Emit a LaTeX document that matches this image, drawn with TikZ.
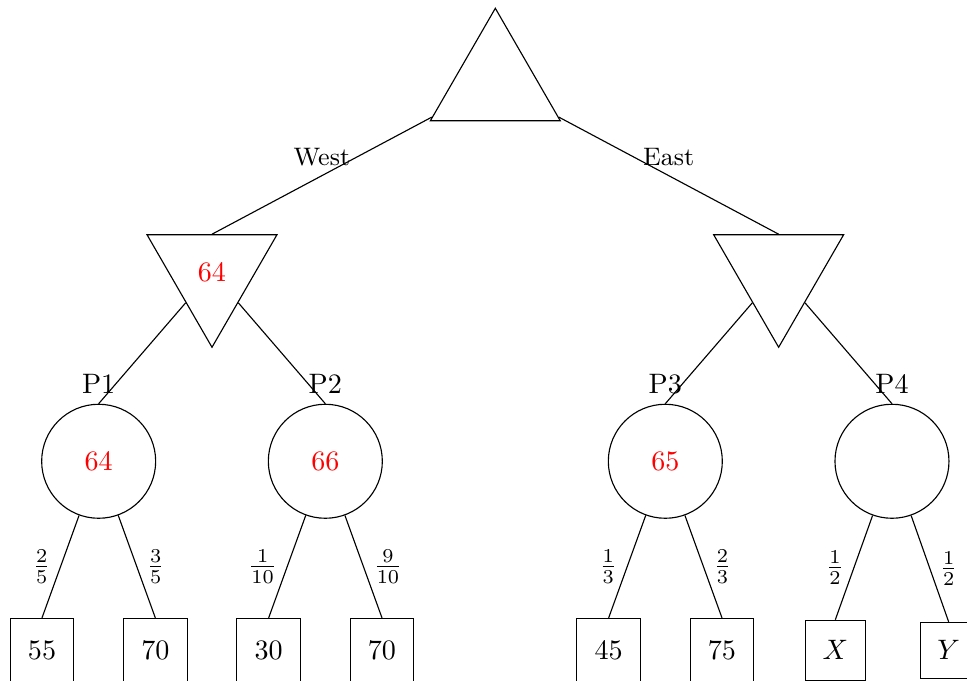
\documentclass[tikz,border=0pt]{standalone}
\usepackage{amsmath}
\usetikzlibrary{shapes.geometric}
\tikzset{
  maxnode/.style={draw, regular polygon, regular polygon sides=3, minimum size=1.875cm, inner sep=0pt},
  minnode/.style={maxnode, shape border rotate=180},
  chance/.style={draw, circle, minimum size=1.425cm},
  payoff/.style={draw, regular polygon, regular polygon sides=4, inner sep=3pt},
  value/.style={text=red}
}

\begin{document}
\begin{tikzpicture}[x=1.41667cm, y=2.3625cm]
     \useasboundingbox (-0.3706,0.4407) rectangle (8.162,-3.1624);
     \node [maxnode] (root) at (4,0) {};
     \node [minnode, value] (west) at (1.5,-1) {64};
     \node [minnode] (east) at (6.5,-1) {};
     \draw (root) -- node [midway, above] {\small West} (west.north);
     \draw (root) -- node [midway, above] {\small East} (east.north);
     \node [chance, value, label={[text=black]above:P1}] (p1) at (0.5,-2) {64};
     \node [chance, value, label={[text=black]above:P2}] (p2) at (2.5,-2) {66};
     \node [chance, value, label={[text=black]above:P3}] (p3) at (5.5,-2) {65};
     \node [chance, label={above:P4}] (p4) at (7.5,-2) {};
     \draw (west) -- (p1.north);
     \draw (west) -- (p2.north);
     \draw (east) -- (p3.north);
     \draw (east) -- (p4.north);
     \node [payoff] (l1) at (0,-3) {55};
     \node [payoff] (l2) at (1,-3) {70};
     \node [payoff] (l3) at (2,-3) {30};
     \node [payoff] (l4) at (3,-3) {70};
     \node [payoff] (l5) at (5,-3) {45};
     \node [payoff] (l6) at (6,-3) {75};
     \node [payoff] (l7) at (7,-3) {$X$};
     \node [payoff] (l8) at (8,-3) {$Y$};
     \draw (p1) -- node [midway, left] {$\frac{2}{5}$} (l1.north);
     \draw (p1) -- node [midway, right] {$\frac{3}{5}$} (l2.north);
     \draw (p2) -- node [midway, left] {$\frac{1}{10}$} (l3.north);
     \draw (p2) -- node [midway, right] {$\frac{9}{10}$} (l4.north);
     \draw (p3) -- node [midway, left] {$\frac{1}{3}$} (l5.north);
     \draw (p3) -- node [midway, right] {$\frac{2}{3}$} (l6.north);
     \draw (p4) -- node [midway, left] {$\frac{1}{2}$} (l7.north);
     \draw (p4) -- node [midway, right] {$\frac{1}{2}$} (l8.north);
\end{tikzpicture}
\end{document}
